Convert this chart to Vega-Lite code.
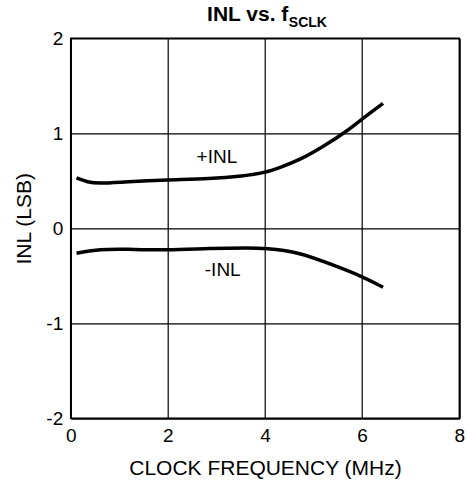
{
  "$schema": "https://vega.github.io/schema/vega-lite/v6.json",
  "width": 388.6,
  "height": 380,
  "autosize": {"type": "none"},
  "padding": {"left": 70.7, "top": 38.3, "right": 8, "bottom": 67},
  "background": "white",
  "config": {
    "font": "Liberation Sans",
    "view": {"stroke": "black", "strokeWidth": 1.5},
    "axis": {
      "domainColor": "black",
      "domainWidth": 1.5,
      "gridColor": "black",
      "gridWidth": 1.2,
      "gridOpacity": 1,
      "ticks": false,
      "labelFont": "Liberation Sans",
      "labelFontSize": 19,
      "labelColor": "black",
      "titleFont": "Liberation Sans",
      "titleFontSize": 21,
      "titleFontWeight": "normal",
      "titleColor": "black"
    }
  },
  "datasets": {
    "curves": [
      {"f": 0.12, "inl": 0.53, "series": "+INL"},
      {"f": 0.35, "inl": 0.485, "series": "+INL"},
      {"f": 0.57, "inl": 0.47, "series": "+INL"},
      {"f": 1.15, "inl": 0.49, "series": "+INL"},
      {"f": 1.98, "inl": 0.51, "series": "+INL"},
      {"f": 2.87, "inl": 0.52, "series": "+INL"},
      {"f": 3.55, "inl": 0.55, "series": "+INL"},
      {"f": 4.0, "inl": 0.585, "series": "+INL"},
      {"f": 4.31, "inl": 0.64, "series": "+INL"},
      {"f": 4.72, "inl": 0.72, "series": "+INL"},
      {"f": 5.2, "inl": 0.86, "series": "+INL"},
      {"f": 5.68, "inl": 1.02, "series": "+INL"},
      {"f": 6.02, "inl": 1.16, "series": "+INL"},
      {"f": 6.43, "inl": 1.315, "series": "+INL"},
      {"f": 0.12, "inl": -0.263, "series": "-INL"},
      {"f": 0.6, "inl": -0.218, "series": "-INL"},
      {"f": 1.15, "inl": -0.22, "series": "-INL"},
      {"f": 1.98, "inl": -0.23, "series": "-INL"},
      {"f": 2.87, "inl": -0.21, "series": "-INL"},
      {"f": 3.69, "inl": -0.205, "series": "-INL"},
      {"f": 4.0, "inl": -0.21, "series": "-INL"},
      {"f": 4.66, "inl": -0.245, "series": "-INL"},
      {"f": 5.4, "inl": -0.386, "series": "-INL"},
      {"f": 6.02, "inl": -0.51, "series": "-INL"},
      {"f": 6.43, "inl": -0.62, "series": "-INL"}
    ],
    "labels": [
      {"f": 3.01, "inl": 0.75, "label": "+INL"},
      {"f": 3.13, "inl": -0.44, "label": "-INL"}
    ],
    "title": [
      {"f": 4.48, "inl": 2.18, "label": "INL vs. f"}
    ],
    "sub": [
      {"f": 4.49, "inl": 2.12, "label": "SCLK"}
    ]
  },
  "layer": [
    {
      "data": {"name": "curves"},
      "mark": {"type": "line", "color": "black", "strokeWidth": 3.5, "interpolate": "basis", "strokeCap": "butt"},
      "encoding": {
        "x": {
          "field": "f", "type": "quantitative",
          "scale": {"domain": [0, 8], "nice": false},
          "axis": {"values": [0, 2, 4, 6, 8], "title": "CLOCK FREQUENCY (MHz)", "labelPadding": 8, "titlePadding": 12, "labelFlush": false, "labelExpr": "'' + datum.value"}
        },
        "y": {
          "field": "inl", "type": "quantitative",
          "scale": {"domain": [-2, 2], "nice": false},
          "axis": {"values": [-2, -1, 0, 1, 2], "title": "INL (LSB)", "labelPadding": 8, "titlePadding": 11, "titleY": 180, "labelFlush": false, "labelExpr": "'' + datum.value"}
        },
        "detail": {"field": "series"}
      }
    },
    {
      "data": {"name": "labels"},
      "mark": {"type": "text", "color": "black", "fontSize": 19, "font": "Liberation Sans", "align": "center", "baseline": "middle"},
      "encoding": {
        "x": {"field": "f", "type": "quantitative"},
        "y": {"field": "inl", "type": "quantitative"},
        "text": {"field": "label"}
      }
    },
    {
      "data": {"name": "title"},
      "mark": {"type": "text", "color": "black", "fontSize": 21, "fontWeight": "bold", "font": "Liberation Sans", "align": "right", "baseline": "alphabetic", "clip": false},
      "encoding": {
        "x": {"field": "f", "type": "quantitative"},
        "y": {"field": "inl", "type": "quantitative"},
        "text": {"field": "label"}
      }
    },
    {
      "data": {"name": "sub"},
      "mark": {"type": "text", "color": "black", "fontSize": 14, "fontWeight": "bold", "font": "Liberation Sans", "align": "left", "baseline": "alphabetic", "clip": false},
      "encoding": {
        "x": {"field": "f", "type": "quantitative"},
        "y": {"field": "inl", "type": "quantitative"},
        "text": {"field": "label"}
      }
    }
  ]
}
